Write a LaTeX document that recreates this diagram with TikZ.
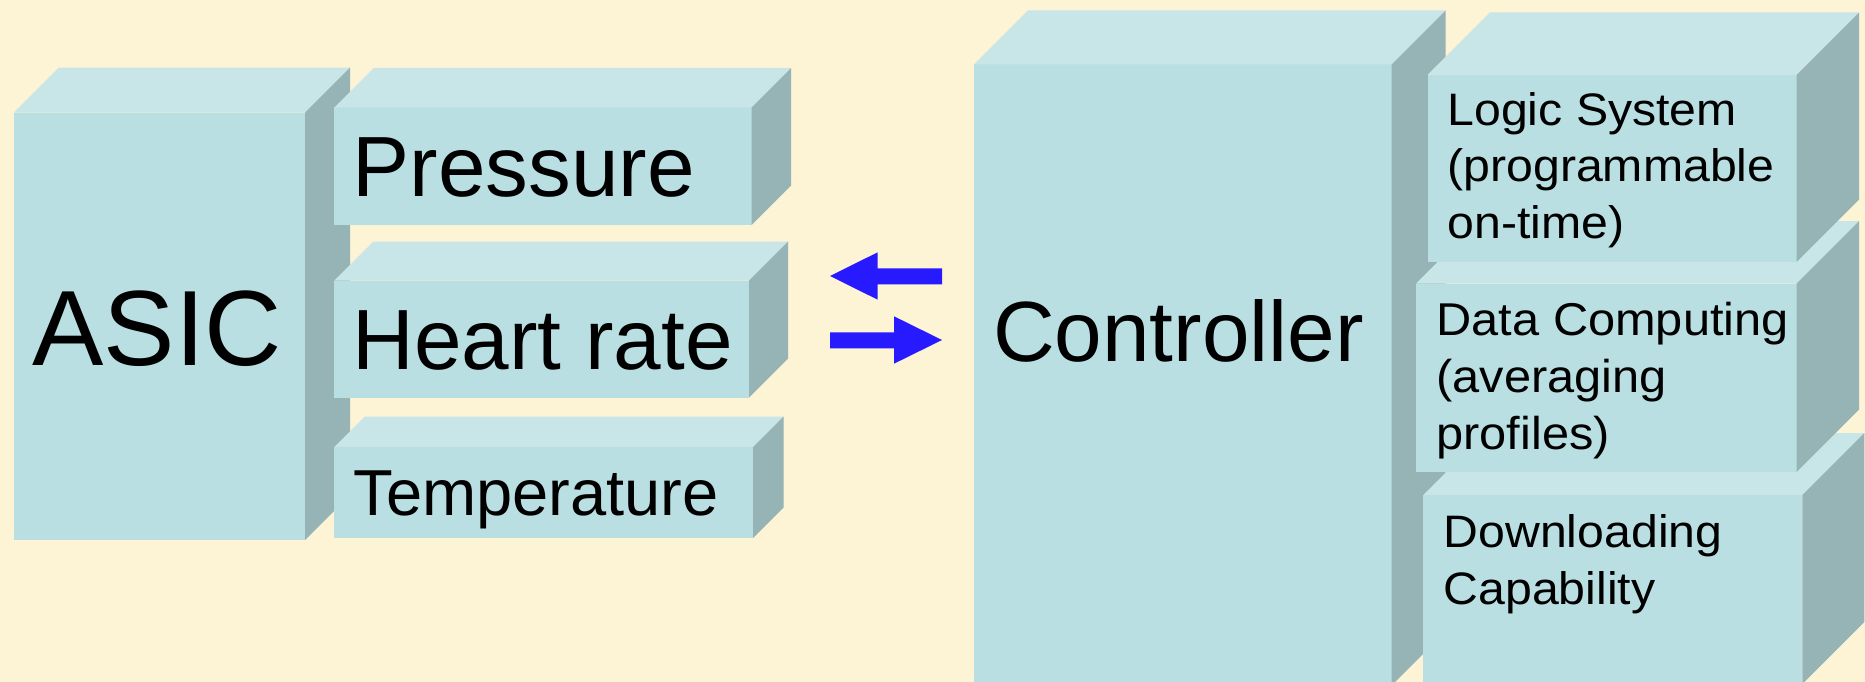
\documentclass[tikz,border=0pt]{standalone}
\usepackage{fontspec}
\setmainfont{Liberation Sans}
\newfontfamily\widefont[FakeStretch=1.06]{Liberation Sans}
\usetikzlibrary{calc}

\definecolor{bg}{RGB}{253,243,213}
\definecolor{facefront}{RGB}{185,223,226}
\definecolor{facetop}{RGB}{200,230,232}
\definecolor{faceside}{RGB}{150,179,182}
\definecolor{arrowblue}{RGB}{40,26,255}

\tikzset{
  frontface/.style={fill=facefront, draw=none, inner sep=0pt, outer sep=0pt, anchor=north west},
  lbl/.style={anchor=base west, inner sep=0pt, outer sep=0pt, text=black},
  blockarrow/.style={fill=arrowblue, draw=none}
}

% cuboid: name, x, y of front top-left corner, width, height, depth
\newcommand{\cuboid}[6]{%
  \node[frontface, minimum width=#4pt, minimum height=#5pt] (#1) at (#2,#3) {};
  \fill[facetop] (#1.north west) -- ++(#6pt,#6pt) -- ($(#1.north east)+(#6pt,#6pt)$) -- (#1.north east) -- cycle;
  \fill[faceside] (#1.north east) -- ++(#6pt,#6pt) -- ($(#1.south east)+(#6pt,#6pt)$) -- (#1.south east) -- cycle;
}
\newcommand{\fs}[2]{\fontsize{#1}{#2}\selectfont}

\begin{document}
\begin{tikzpicture}[x=1pt, y=-1pt]
  \useasboundingbox (0,0) rectangle (1865,682);
  \fill[bg] (0,0) rectangle (1865,682);
  \clip (0,0) rectangle (1865,682);

  % sensor block
  \cuboid{asic}{13.8}{112.7}{291.2}{427.3}{45}
  \cuboid{pressure}{334.3}{107.5}{417.2}{117.5}{39.5}
  \cuboid{heart}{334.3}{280.5}{414.7}{117.2}{39}
  \cuboid{temp}{334.3}{447}{418.7}{91}{30.5}

  \node[lbl, font=\fs{107}{128}] (asictxt) at (32.5,365) {ASIC};
  \node[lbl, font=\fs{85.5}{102}] (pressuretxt) at (352.5,196.7) {Pressure};
  \node[lbl, font=\fs{85.5}{102}] (hearttxt) at (352.5,369) {Heart rate};
  \node[lbl, font=\fs{65}{78}] (temptxt) at (353.5,515) {Temperature};

  % controller block
  \cuboid{ctrl}{974}{64.4}{417.7}{621}{54}
  \cuboid{download}{1423.3}{495}{379}{189}{62}
  \cuboid{data}{1416}{283.5}{380.7}{188.5}{62.5}
  \cuboid{logic}{1427.5}{74.8}{369.2}{187}{62.5}

  \node[lbl, font=\fs{85.5}{102}] (ctrltxt) at (993,361) {Controller};
  \node[lbl] (logictxt) at (1447.5,125)
    {\parbox[t]{400pt}{\widefont\fs{45.5}{56.6}\raggedright Logic System\\(programmable\\on-time)}};
  \node[lbl] (datatxt) at (1436.5,335.7)
    {\parbox[t]{400pt}{\widefont\fs{46}{56.7}\raggedright Data Computing\\(averaging\\profiles)}};
  \node[lbl] (downloadtxt) at (1443.6,547)
    {\parbox[t]{400pt}{\widefont\fs{45.5}{57.3}\raggedright Downloading\\Capability}};

  % data exchange arrows
  \fill[blockarrow] (830,276) -- (877.7,252.3) -- (877.7,268.3) -- (942,268.3)
    -- (942,284.3) -- (877.7,284.3) -- (877.7,299.7) -- cycle;
  \fill[blockarrow] (942,340) -- (894,316.3) -- (894,332.3) -- (830,332.3)
    -- (830,348.3) -- (894,348.3) -- (894,363.7) -- cycle;
\end{tikzpicture}
\end{document}
